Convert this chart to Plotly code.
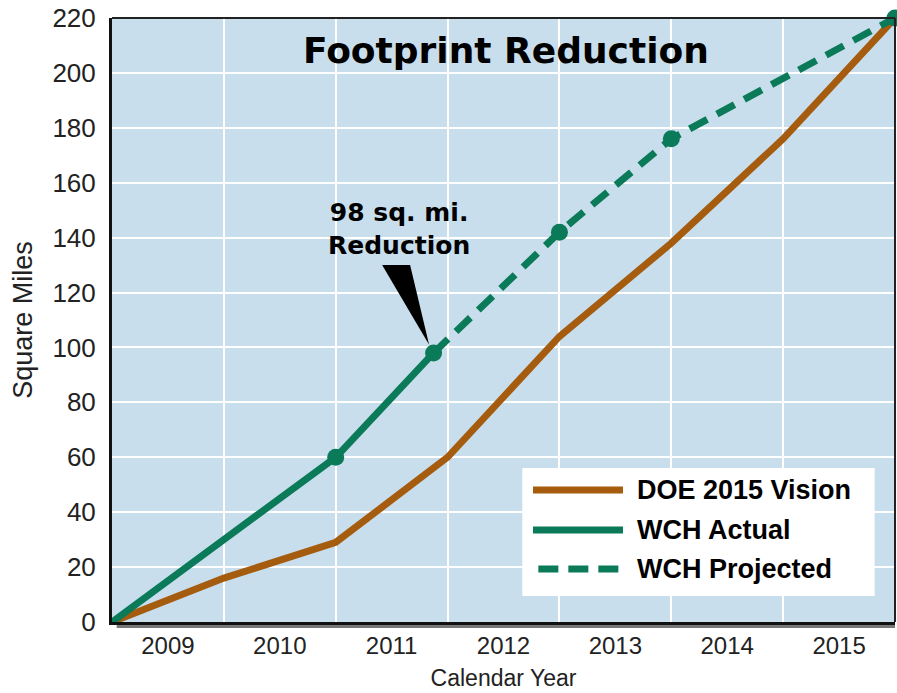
import plotly.graph_objects as go

# ---- data (x = years elapsed since start of the 2009 column) ----
year_labels = ["2009", "2010", "2011", "2012", "2013", "2014", "2015"]
year_centers = [i + 0.5 for i in range(len(year_labels))]

doe_t = [0, 1, 2, 3, 4, 5, 6, 7]
doe_sqmi = [0, 16, 29, 60, 104, 138, 176, 220]

actual_t = [0, 2, 2.875]
actual_sqmi = [0, 60, 98]

proj_t = [2.875, 4, 5, 7]
proj_sqmi = [98, 142, 176, 220]

marker_t = actual_t[1:] + proj_t[1:]
marker_sqmi = actual_sqmi[1:] + proj_sqmi[1:]

y_ticks = list(range(0, 221, 20))

ORANGE = "#a65c0e"
GREEN = "#0a7a58"
BG = "#c8deec"
BOLD_FONT = "DejaVu Sans"
FONT = "Liberation Sans, Arial, sans-serif"

fig = go.Figure()
fig.add_trace(go.Scatter(x=doe_t, y=doe_sqmi, mode="lines", name="DOE 2015 Vision",
                         line=dict(color=ORANGE, width=7), showlegend=False))
fig.add_trace(go.Scatter(x=actual_t, y=actual_sqmi, mode="lines", name="WCH Actual",
                         line=dict(color=GREEN, width=7), showlegend=False))
fig.add_trace(go.Scatter(x=proj_t, y=proj_sqmi, mode="lines", name="WCH Projected",
                         line=dict(color=GREEN, width=7, dash="20px,11px"), showlegend=False))
fig.add_trace(go.Scatter(x=marker_t, y=marker_sqmi, mode="markers",
                         marker=dict(color=GREEN, size=17), showlegend=False,
                         cliponaxis=False))

# pointer wedge for the annotation, anchored on the reduction point
px, py = actual_t[-1], actual_sqmi[-1]
fig.add_shape(type="path", xref="x", yref="y",
              path=f"M {px-0.46},{py+32} L {px-0.21},{py+32} L {px-0.04},{py+3} Z",
              fillcolor="black", line=dict(width=0))

fig.add_annotation(x=2.57, y=143, xref="x", yref="y", text="<b>98 sq. mi.<br>Reduction</b>",
                   showarrow=False, font=dict(family=BOLD_FONT, size=25, color="black"),
                   align="center")

fig.add_annotation(x=0.503, y=0.947, xref="paper", yref="paper", text="<b>Footprint Reduction</b>",
                   showarrow=False, xanchor="center", yanchor="middle",
                   font=dict(family=BOLD_FONT, size=36, color="black"))

# custom legend
fig.add_shape(type="rect", xref="paper", yref="paper", x0=0.524, x1=0.974, y0=0.043, y1=0.255,
              fillcolor="white", line=dict(width=0), layer="above")
legend_items = [("DOE 2015 Vision", ORANGE, "solid", 0.2185),
                ("WCH Actual", GREEN, "solid", 0.1523),
                ("WCH Projected", GREEN, "20px,10px", 0.0877)]
for label, col, dash, yy in legend_items:
    x0 = 0.5377 if dash == "solid" else 0.5445
    fig.add_shape(type="line", xref="paper", yref="paper", x0=x0, x1=0.6526, y0=yy, y1=yy,
                  line=dict(color=col, width=7, dash=dash), layer="above")
    fig.add_annotation(x=0.6675, y=yy, xref="paper", yref="paper", text=f"<b>{label}</b>",
                       showarrow=False, xanchor="left", yanchor="middle",
                       font=dict(family=FONT, size=27, color="black"))

# frame: top/right borders and shadow under bottom axis
fig.add_shape(type="line", xref="paper", yref="paper", x0=0, x1=1, y0=1, y1=1,
              line=dict(color="#222", width=2))
fig.add_shape(type="line", xref="paper", yref="paper", x0=1, x1=1, y0=0, y1=1,
              line=dict(color="#222", width=2))
fig.add_shape(type="line", xref="paper", yref="paper", x0=0.006, x1=1, y0=-0.0075, y1=-0.0075,
              line=dict(color="#777", width=3))

fig.update_layout(
    width=897, height=693,
    margin=dict(l=112, r=2, t=18, b=71),
    paper_bgcolor="white", plot_bgcolor=BG,
    font=dict(family=FONT, color="#222"),
    xaxis=dict(range=[0, 7], tickvals=year_centers, ticktext=year_labels,
               showgrid=False, zeroline=False, showline=True, linecolor="#111", linewidth=3,
               ticks="", ticklabelstandoff=0, tickfont=dict(size=24, color="#222"),
               minor=dict(tickvals=list(range(1, 7)), showgrid=True, gridcolor="white", gridwidth=2, ticks=""),
               title=dict(text="Calendar Year", font=dict(size=23, color="#222"), standoff=13)),
    yaxis=dict(range=[0, 220], tickvals=y_ticks, showgrid=True, gridcolor="white", gridwidth=2,
               zeroline=False, showline=True, linecolor="#111", linewidth=3,
               ticks="", ticklabelstandoff=8, tickfont=dict(size=26, color="#222"),
               title=dict(text="Square Miles", font=dict(size=27, color="#222"), standoff=12)),
)

fig.write_html("out.html", config={"displayModeBar": False},
               post_script="document.body.style.margin='0px';document.body.style.overflow='hidden';")
